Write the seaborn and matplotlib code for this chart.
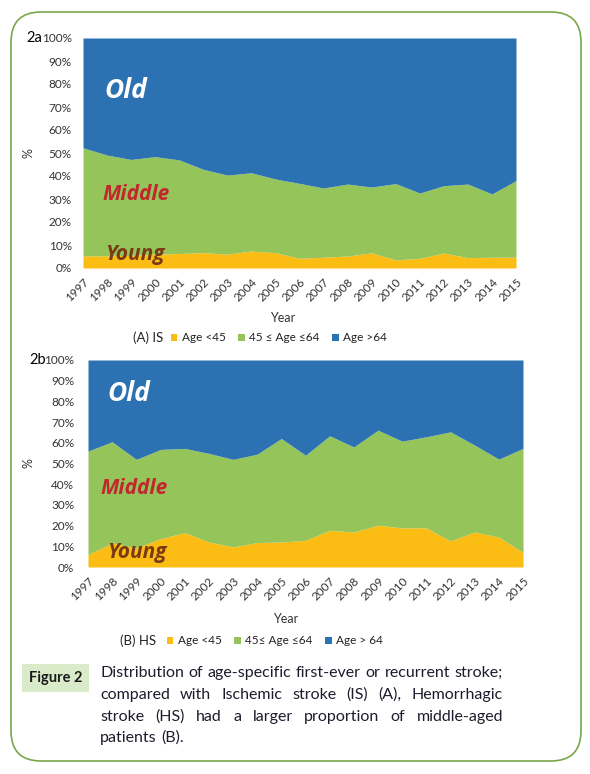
import matplotlib.pyplot as plt
import pandas as pd
import seaborn as sns
from matplotlib.patches import FancyBboxPatch, Rectangle, Patch
from matplotlib.transforms import IdentityTransform

# Data (percent of patients per year)
years = list(range(1997, 2016))

is_young = [5.3, 5.3, 5.5, 6.0, 6.3, 6.7, 6.0, 7.4, 6.7, 4.2, 4.7, 5.2, 6.6, 3.5, 4.2, 6.5, 4.5, 4.7, 4.7]
is_middle = [47.0, 43.8, 41.7, 42.4, 40.7, 36.2, 34.4, 34.0, 32.0, 32.6, 30.1, 31.3, 28.6, 33.2, 28.4, 29.3, 32.0, 27.5, 33.3]
is_old = [47.7, 50.9, 52.8, 51.6, 53.0, 57.1, 59.6, 58.6, 61.3, 63.2, 65.2, 63.5, 64.8, 63.3, 67.4, 64.2, 63.5, 67.8, 62.0]

hs_young = [6.0, 11.6, 9.2, 13.7, 16.6, 12.1, 9.7, 11.8, 12.1, 12.9, 17.7, 16.9, 20.2, 18.9, 18.9, 12.6, 16.9, 14.5, 7.0]
hs_middle = [50.0, 48.9, 42.8, 43.1, 40.7, 42.8, 42.3, 42.7, 50.0, 41.1, 45.7, 41.1, 45.9, 41.9, 44.0, 52.7, 42.0, 37.6, 50.3]
hs_old = [44.0, 39.5, 48.0, 43.2, 42.7, 45.1, 48.0, 45.5, 37.9, 46.0, 36.6, 42.0, 33.9, 39.2, 37.1, 34.7, 41.1, 47.9, 42.7]

pct_ticks = list(range(0, 101, 10))
legend_a = ['Age <45', '45 \u2264 Age \u226464', 'Age >64']
legend_b = ['Age <45', '45\u2264 Age \u226464', 'Age > 64']
caption_lines = [
    'Distribution of age-specific first-ever or recurrent stroke;',
    'compared with Ischemic stroke (IS) (A), Hemorrhagic',
    'stroke (HS) had a larger proportion of middle-aged',
    'patients (B).',
]

df_is = pd.DataFrame({'year': years, 'young': is_young, 'middle': is_middle, 'old': is_old})
df_hs = pd.DataFrame({'year': years, 'young': hs_young, 'middle': hs_middle, 'old': hs_old})

sns.set_theme(style='white')
plt.rcParams['font.family'] = ['Lato', 'DejaVu Sans']

W, H = 590, 774
fig = plt.figure(figsize=(W / 100, H / 100), dpi=100)


def fx(x):
    return x / W


def fy(y):
    return 1 - y / H


colors = ['#fbbd14', '#94c45a', '#2c72b2']
tick_color = '#333333'


def draw_panel(rect, df, tag, tag_xy, label_pos, leg_title, leg_labels, leg_title_xy, leg_xy):
    left, top, right, bottom = rect
    ax = fig.add_axes([fx(left), fy(bottom), fx(right - left), (bottom - top) / H])
    ax.stackplot(df['year'], df['young'], df['middle'], df['old'], colors=colors, linewidth=0)
    ax.set_xlim(years[0], years[-1])
    ax.set_ylim(0, 100)
    sns.despine(ax=ax, left=True, bottom=True)
    ax.set_yticks(pct_ticks)
    ax.set_yticklabels([f'{v}%' for v in pct_ticks], fontsize=8.5, color=tick_color)
    ax.set_xticks(years)
    ax.set_xticklabels([str(y) for y in years], fontsize=8.5, color=tick_color,
                       rotation=45, ha='right', rotation_mode='anchor')
    ax.tick_params(axis='y', length=0, pad=label_pos['ypad'])
    ax.tick_params(axis='x', length=0, pad=6)
    ax.set_xlabel('Year', fontsize=9, color=tick_color)
    ax.xaxis.set_label_coords(*label_pos['xlabel'])
    ax.set_ylabel('%', fontsize=9, color=tick_color)
    ax.yaxis.set_label_coords(*label_pos['ylabel'])

    # band labels
    band_font = ['Open Sans', 'DejaVu Sans']
    ax.text(label_pos['old'][0], label_pos['old'][1], 'Old', transform=ax.transAxes,
            color='white', fontsize=19, fontweight='bold', fontstyle='italic',
            family=band_font, va='center')
    ax.text(label_pos['middle'][0], label_pos['middle'][1], 'Middle', transform=ax.transAxes,
            color='#c0282d', fontsize=15, fontweight='bold', fontstyle='italic',
            family=band_font, va='center')
    ax.text(label_pos['young'][0], label_pos['young'][1], 'Young', transform=ax.transAxes,
            color='#7a3a14', fontsize=15, fontweight='bold', fontstyle='italic',
            family=band_font, va='center')

    fig.text(fx(tag_xy[0]), fy(tag_xy[1]), tag, fontsize=10.5, color='black', va='center')

    # legend
    fig.text(fx(leg_title_xy[0]), fy(leg_title_xy[1]), leg_title, fontsize=9.5,
             color='#222222', va='center')
    handles = [Patch(facecolor=c, edgecolor='none') for c in colors]
    fig.legend(handles, leg_labels, loc='center left', bbox_to_anchor=(fx(leg_xy[0]), fy(leg_xy[1])),
               ncol=3, frameon=False, fontsize=8.5, handlelength=0.55, handleheight=0.55,
               handletextpad=0.35, columnspacing=1.1, borderpad=0, borderaxespad=0,
               labelcolor='#222222')
    return ax


draw_panel((83, 38, 516, 268), df_is, '2a', (26, 38),
           {'ypad': 8, 'xlabel': (0.46, -0.19), 'ylabel': (-0.111, 0.5),
            'old': (0.05, 0.77), 'middle': (0.044, 0.32), 'young': (0.05, 0.06)},
           '(A) IS', legend_a, (133, 338), (171, 338))

draw_panel((88, 360, 523, 567), df_hs, '2b', (29, 360),
           {'ypad': 10, 'xlabel': (0.455, -0.222), 'ylabel': (-0.122, 0.5),
            'old': (0.044, 0.84), 'middle': (0.028, 0.377), 'young': (0.044, 0.068)},
           '(B) HS', legend_b, (120, 641), (167, 641))

# rounded frame around the whole figure
frame = FancyBboxPatch((11, H - 761), 570, 749, boxstyle='round,pad=0,rounding_size=30',
                       transform=IdentityTransform(), facecolor='none',
                       edgecolor='#78a84a', linewidth=1.2)
fig.add_artist(frame)

# "Figure 2" tag
fig.add_artist(Rectangle((fx(22), fy(692)), fx(67), 28 / H, transform=fig.transFigure,
                         facecolor='#d9ebc9', edgecolor='none'))
fig.text(fx(55.5), fy(678), 'Figure 2', fontsize=10.5, fontweight='bold',
         color='#1a1a1a', ha='center', va='center')

# justified caption
renderer = fig.canvas.get_renderer()
cap_left, cap_right = 100, 503
cap_y = [673, 695, 717, 738]
cap_size = 11.5
for i, line in enumerate(caption_lines):
    words = line.split()
    objs = [fig.text(0, fy(cap_y[i]), w, fontsize=cap_size, color='#1c1c2c', va='center')
            for w in words]
    widths = [o.get_window_extent(renderer).width for o in objs]
    if i < len(caption_lines) - 1:
        gap = (cap_right - cap_left - sum(widths)) / (len(words) - 1)
    else:
        gap = 0.26 * cap_size * 100 / 72
    x = cap_left
    for o, w in zip(objs, widths):
        o.set_x(fx(x))
        x += w + gap

fig.savefig('out.png', dpi=100)
